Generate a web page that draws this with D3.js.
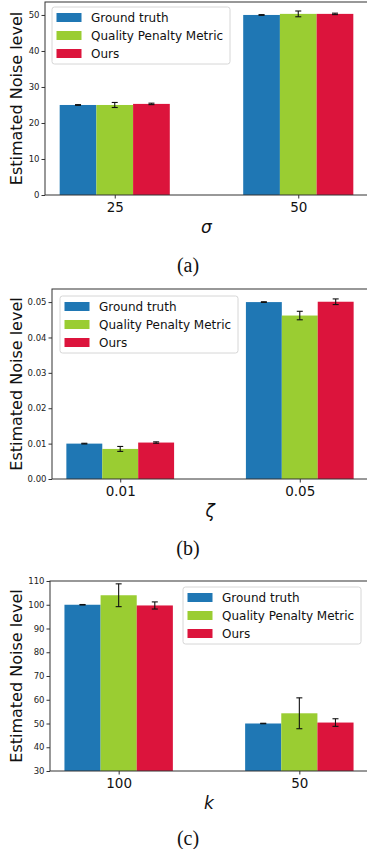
<!DOCTYPE html>
<html>
<head>
<meta charset="utf-8">
<script src="https://cdn.jsdelivr.net/npm/d3@7"></script>
<style>
  body { margin: 0; background: #fff; }
  svg { display: block; }
</style>
</head>
<body>
<svg id="chart" width="367" height="849"></svg>
<script>
// series shared by all three panels
const seriesNames = ['Ground truth', 'Quality Penalty Metric', 'Ours'];
const seriesColors = ['#1f77b4', '#9acd32', '#dc143c'];

// panel (a): sigma
const sigmaCategories = ['25', '50'];
const sigmaMeans = [[25.0, 50.0], [25.0, 50.3], [25.3, 50.3]];
const sigmaErrors = [[0.1, 0.1], [0.7, 0.8], [0.2, 0.2]];
const sigmaTicks = [0, 10, 20, 30, 40, 50];

// panel (b): zeta
const zetaCategories = ['0.01', '0.05'];
const zetaMeans = [[0.0100, 0.0500], [0.0085, 0.0462], [0.0103, 0.0501]];
const zetaErrors = [[0.0001, 0.0001], [0.0007, 0.0012], [0.0002, 0.0008]];
const zetaTicks = [0, 0.01, 0.02, 0.03, 0.04, 0.05];

// panel (c): k
const kCategories = ['100', '50'];
const kMeans = [[100.0, 50.0], [104.0, 54.3], [99.7, 50.4]];
const kErrors = [[0.1, 0.1], [4.8, 6.5], [1.5, 1.6]];
const kTicks = [30, 40, 50, 60, 70, 80, 90, 100, 110];

const svg = d3.select('#chart');

function drawPanel(opt) {
  const x = d3.scaleLinear().domain([-0.38, 1.38]).range([opt.left, opt.right]);
  const y = d3.scaleLinear().domain(opt.yDomain).range([opt.bottom, opt.top]);
  const barW = 0.2;
  const g = svg.append('g');

  // bars
  opt.means.forEach((vals, s) => {
    g.selectAll(null)
      .data(vals)
      .enter()
      .append('rect')
      .attr('x', (d, i) => x(i + (s - 1) * barW - barW / 2))
      .attr('width', x(barW) - x(0))
      .attr('y', d => y(d))
      .attr('height', d => y(opt.yDomain[0]) - y(d))
      .attr('fill', seriesColors[s]);
  });

  // error bars
  opt.means.forEach((vals, s) => {
    vals.forEach((v, i) => {
      const cx = x(i + (s - 1) * barW);
      const e = opt.errors[s][i];
      const eg = g.append('g').attr('stroke', '#111').attr('stroke-width', 1.1);
      eg.append('line').attr('x1', cx).attr('x2', cx).attr('y1', y(v - e)).attr('y2', y(v + e));
      eg.append('line').attr('x1', cx - 3).attr('x2', cx + 3).attr('y1', y(v - e)).attr('y2', y(v - e));
      eg.append('line').attr('x1', cx - 3).attr('x2', cx + 3).attr('y1', y(v + e)).attr('y2', y(v + e));
    });
  });

  // frame
  g.append('rect')
    .attr('x', opt.left).attr('y', opt.top)
    .attr('width', opt.right - opt.left).attr('height', opt.bottom - opt.top)
    .attr('fill', 'none').attr('stroke', '#333').attr('stroke-width', 1);

  // y axis
  const yAxis = g.append('g')
    .attr('transform', `translate(${opt.left},0)`)
    .call(d3.axisLeft(y).tickValues(opt.ticks).tickFormat(opt.fmt).tickSize(3.5).tickSizeOuter(0).tickPadding(2));
  yAxis.select('.domain').remove();
  yAxis.selectAll('text')
    .style('font-family', 'DejaVu Sans')
    .style('font-size', '8.5px')
    .attr('fill', '#222');
  yAxis.selectAll('line').attr('stroke', '#333');

  // x axis
  const xAxis = g.append('g')
    .attr('transform', `translate(0,${opt.bottom})`)
    .call(d3.axisBottom(x).tickValues([0, 1]).tickFormat((d, i) => opt.categories[i]).tickSize(3.5).tickSizeOuter(0).tickPadding(4));
  xAxis.select('.domain').remove();
  xAxis.selectAll('text')
    .style('font-family', 'DejaVu Sans')
    .style('font-size', '13.5px')
    .attr('fill', '#111');
  xAxis.selectAll('line').attr('stroke', '#333');

  // axis titles
  g.append('text')
    .attr('transform', `translate(${opt.yLabelX},${(opt.top + opt.bottom) / 2}) rotate(-90)`)
    .attr('text-anchor', 'middle')
    .style('font-family', 'DejaVu Sans')
    .style('font-size', '16px')
    .attr('fill', '#111')
    .text('Estimated Noise level');

  g.append('text')
    .attr('x', (x(0) + x(1)) / 2)
    .attr('y', opt.bottom + 38)
    .attr('text-anchor', 'middle')
    .style('font-family', 'DejaVu Sans')
    .style('font-style', 'italic')
    .style('font-size', '17px')
    .attr('fill', '#111')
    .text(opt.xLabel);

  // caption
  g.append('text')
    .attr('x', 188)
    .attr('y', opt.captionY)
    .attr('text-anchor', 'middle')
    .style('font-family', 'Liberation Serif')
    .style('font-size', '20px')
    .attr('fill', '#111')
    .text(opt.caption);

  // legend
  const lg = g.append('g').attr('transform', `translate(${opt.legendX},${opt.legendY})`);
  lg.append('rect')
    .attr('width', 178).attr('height', 57).attr('rx', 2.5)
    .attr('fill', 'rgba(255,255,255,0.8)').attr('stroke', '#ccc').attr('stroke-width', 0.8);
  seriesNames.forEach((name, s) => {
    lg.append('rect')
      .attr('x', 4.5).attr('y', 6 + s * 18)
      .attr('width', 25).attr('height', 9)
      .attr('fill', seriesColors[s]);
    lg.append('text')
      .attr('x', 39).attr('y', 14.5 + s * 18)
      .style('font-family', 'DejaVu Sans')
      .style('font-size', '12px')
      .attr('fill', '#111')
      .text(name);
  });
}

drawPanel({
  categories: sigmaCategories, means: sigmaMeans, errors: sigmaErrors, ticks: sigmaTicks,
  fmt: d3.format('d'), yDomain: [0, 53.6],
  left: 45, right: 368, top: 2, bottom: 195,
  yLabelX: 22, xLabel: 'σ', caption: '(a)', captionY: 272,
  legendX: 52, legendY: 7
});

drawPanel({
  categories: zetaCategories, means: zetaMeans, errors: zetaErrors, ticks: zetaTicks,
  fmt: d3.format('.2f'), yDomain: [0, 0.0537],
  left: 52, right: 368, top: 289, bottom: 479,
  yLabelX: 22, xLabel: 'ζ', caption: '(b)', captionY: 555,
  legendX: 60, legendY: 296
});

drawPanel({
  categories: kCategories, means: kMeans, errors: kErrors, ticks: kTicks,
  fmt: d3.format('d'), yDomain: [30, 110],
  left: 50, right: 368, top: 581, bottom: 771,
  yLabelX: 22, xLabel: 'k', caption: '(c)', captionY: 845,
  legendX: 183, legendY: 587
});
</script>
</body>
</html>
